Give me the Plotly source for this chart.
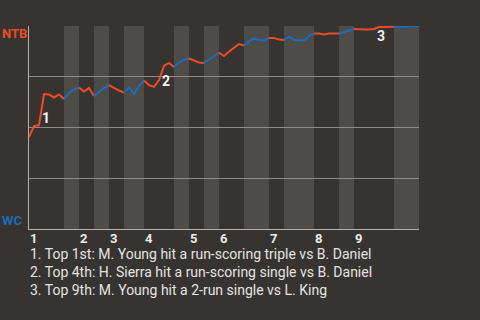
import plotly.graph_objects as go

# Win probability for NTB (%) after each plate appearance, event index 0..78
wp = [45.3, 50.7, 51.2, 66.5, 66.3, 64.8, 66.3, 64.0,
      67.0, 68.7, 69.7,
      67.7, 69.5, 65.5,
      67.5, 69.5, 70.9,
      69.5, 68.2, 67.2,
      69.7, 66.5, 70.4, 73.2,
      70.9, 70.0, 73.4, 80.3, 81.8, 79.8,
      82.0, 83.3, 84.0,
      83.0, 82.0, 81.8,
      83.7, 85.2, 86.9,
      85.2, 87.4, 89.4, 91.1, 90.4,
      92.4, 93.8, 93.1, 92.9, 94.1,
      94.1, 93.3, 93.1,
      94.8, 93.1, 92.9, 92.9, 95.1, 96.3,
      96.3, 95.8, 96.3, 96.3, 96.3,
      97.0, 98.0, 98.5,
      98.3, 98.3, 98.3, 98.5, 99.5, 99.6, 99.6, 99.6,
      99.8, 99.8, 99.8, 99.8, 100.0]

# half-inning boundaries (event index): start of each half, last = end of game
half_starts = [0, 7, 10, 13, 16, 19, 23, 29, 32, 35, 38, 43, 48, 51, 57, 62, 65, 73, 78]
inning_labels = ["1", "2", "3", "4", "5", "6", "7", "8", "9"]

key_events = [3, 27, 70]
key_labels = ["1", "2", "3"]
captions = [
    "1. Top 1st: M. Young hit a run-scoring triple vs B. Daniel",
    "2. Top 4th: H. Sierra hit a run-scoring single vs B. Daniel",
    "3. Top 9th: M. Young hit a 2-run single vs L. King",
]

ORANGE = "#f04b25"
BLUE = "#1c6dbd"
BG = "#363330"
BAND = "#4e4c49"
FONT = "Roboto"

fig = go.Figure()

# line segments per half inning
for h in range(len(half_starts) - 1):
    a, b = half_starts[h], half_starts[h + 1]
    color = ORANGE if h % 2 == 0 else BLUE
    fig.add_trace(go.Scatter(
        x=list(range(a, b + 1)), y=wp[a:b + 1], mode="lines",
        line=dict(color=color, width=2), hoverinfo="skip", showlegend=False))

# shaded bottom halves
for h in range(1, len(half_starts) - 1, 2):
    fig.add_shape(type="rect", xref="x", yref="paper",
                  x0=half_starts[h], x1=half_starts[h + 1], y0=0, y1=1,
                  fillcolor=BAND, line_width=0, layer="below")

annotations = []
for ev, lab in zip(key_events, key_labels):
    annotations.append(dict(
        x=ev, y=(wp[ev - 1] + wp[ev]) / 2, xref="x", yref="y",
        text="<b>" + lab + "</b>", showarrow=False, xanchor="center",
        yanchor="middle", xshift=2, yshift=-8,
        font=dict(family=FONT, size=14, color="#f2f2f2")))

annotations.append(dict(x=0, y=1, xref="paper", yref="paper", text="<b>NTB</b>",
                        showarrow=False, xanchor="center", yanchor="top",
                        xshift=-15, yshift=2,
                        font=dict(family=FONT, size=13, color=ORANGE)))
annotations.append(dict(x=0, y=0, xref="paper", yref="paper", text="<b>WC</b>",
                        showarrow=False, xanchor="center", yanchor="bottom",
                        xshift=-17, yshift=-1,
                        font=dict(family=FONT, size=13, color=BLUE)))

# inning labels at the start of each inning
for i, lab in enumerate(inning_labels):
    annotations.append(dict(x=half_starts[2 * i], y=0, xref="x", yref="paper",
                            text="<b>" + lab + "</b>", showarrow=False,
                            xanchor="left", yanchor="middle", xshift=-1, yshift=-9,
                            font=dict(family=FONT, size=13, color="#ecebe8")))

for i, cap in enumerate(captions):
    annotations.append(dict(x=0, y=0, xref="paper", yref="paper", text=cap,
                            showarrow=False, xanchor="left", yanchor="middle",
                            xshift=-1, yshift=-25 - 18 * i,
                            font=dict(family=FONT, size=14, color="#e6e4e1")))

fig.update_layout(
    width=480, height=320,
    margin=dict(l=29, r=61, t=26, b=91),
    paper_bgcolor=BG, plot_bgcolor=BG,
    showlegend=False, hovermode=False,
    annotations=annotations,
    xaxis=dict(range=[0, 78], showticklabels=False, ticks="",
               showgrid=False, zeroline=False,
               showline=True, linecolor="#b3b1ae", linewidth=1),
    yaxis=dict(range=[0, 100], tickvals=[0, 25, 50, 75, 100], showticklabels=False,
               showgrid=True, gridcolor="#8e8c89", gridwidth=1, zeroline=False,
               showline=True, linecolor="#b3b1ae", linewidth=1),
)

fig.write_html("out.html")
